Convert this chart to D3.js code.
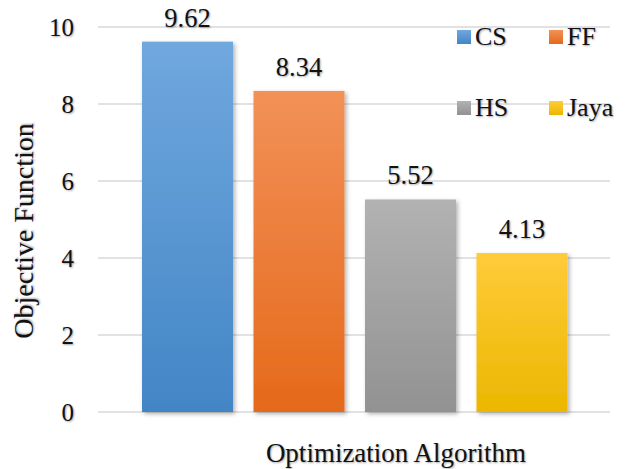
<!DOCTYPE html>
<html><head><meta charset="utf-8">
<script src="https://cdn.jsdelivr.net/npm/d3@7/dist/d3.min.js"></script>
<style>
html,body{margin:0;padding:0;background:#fff;}
svg text{font-family:"Liberation Serif","Times New Roman",Times,serif !important;fill:#111;text-shadow:1px 1px 2px rgba(0,0,0,0.35);}
</style></head>
<body>
<svg id="c" width="629" height="469" font-family="Liberation Serif, serif"></svg>
<script>
const categories = ["CS", "FF", "HS", "Jaya"];
const values = [9.62, 8.34, 5.52, 4.13];
const valueLabels = ["9.62", "8.34", "5.52", "4.13"];
const yTicks = [0, 2, 4, 6, 8, 10];
const colorsTop = ["#70a8de", "#f29158", "#b2b2b2", "#ffcb3a"];
const colorsBottom = ["#4385c6", "#e5691a", "#929292", "#ebb700"];
const FONT = "'Liberation Serif', 'Times New Roman', serif";

const svg = d3.select("#c");
const defs = svg.append("defs");
categories.forEach((c, i) => {
  const g = defs.append("linearGradient").attr("id", "g" + i)
    .attr("x1", 0).attr("y1", 0).attr("x2", 0).attr("y2", 1);
  g.append("stop").attr("offset", "0%").attr("stop-color", colorsTop[i]);
  g.append("stop").attr("offset", "100%").attr("stop-color", colorsBottom[i]);
});
const f = defs.append("filter").attr("id", "sh").attr("x", "-10%").attr("y", "-10%").attr("width", "130%").attr("height", "130%");
f.append("feDropShadow").attr("dx", 2).attr("dy", 2).attr("stdDeviation", 2).attr("flood-color", "#000").attr("flood-opacity", 0.3);

const y = d3.scaleLinear().domain([0, 10]).range([412, 27]);
const x = d3.scaleBand().domain(categories).range([131.75, 577.75]).paddingInner(0.184).paddingOuter(0.092);

// gridlines
svg.append("g").selectAll("line").data(yTicks).join("line")
  .attr("x1", 98).attr("x2", 610)
  .attr("y1", d => y(d)).attr("y2", d => y(d))
  .attr("stroke", "#d9d9d9").attr("stroke-width", 1.5);

// y tick labels
const yAxis = d3.axisLeft(y).tickValues(yTicks).tickSize(0).tickPadding(0).tickFormat(d3.format("d"));
const ya = svg.append("g").attr("transform", "translate(74,0)").call(yAxis);
ya.attr("font-family", null);
ya.select(".domain").remove();
ya.selectAll("text").attr("font-size", 25).attr("fill", "#111").attr("dy", "0.34em")
  .attr("font-family", FONT);

// bars
svg.append("g").selectAll("rect").data(values).join("rect")
  .attr("x", (d, i) => x(categories[i]))
  .attr("width", x.bandwidth())
  .attr("y", d => y(d))
  .attr("height", d => y(0) - y(d))
  .attr("fill", (d, i) => `url(#g${i})`)
  .attr("filter", "url(#sh)");

// value labels
svg.append("g").selectAll("text").data(values).join("text")
  .attr("x", (d, i) => x(categories[i]) + x.bandwidth() / 2)
  .attr("y", d => y(d) - 15)
  .attr("text-anchor", "middle").attr("font-size", 26.5).attr("font-family", FONT)
  .text((d, i) => valueLabels[i]);

// legend
const legPos = [[457, 30], [549, 30], [457, 101], [549, 101]];
const leg = svg.append("g");
categories.forEach((c, i) => {
  leg.append("rect").attr("x", legPos[i][0]).attr("y", legPos[i][1]).attr("width", 14).attr("height", 14)
    .attr("fill", `url(#g${i})`);
  leg.append("text").attr("x", legPos[i][0] + 18).attr("y", legPos[i][1] + 15)
    .attr("font-size", 26).attr("font-family", FONT).text(c);
});

// axis titles
svg.append("text").attr("x", 396).attr("y", 462).attr("text-anchor", "middle")
  .attr("font-size", 27).attr("font-family", FONT).text("Optimization Algorithm");
svg.append("text").attr("transform", "translate(33,231) rotate(-90)").attr("text-anchor", "middle")
  .attr("font-size", 28).attr("font-family", FONT).text("Objective Function");
</script>
</body></html>
